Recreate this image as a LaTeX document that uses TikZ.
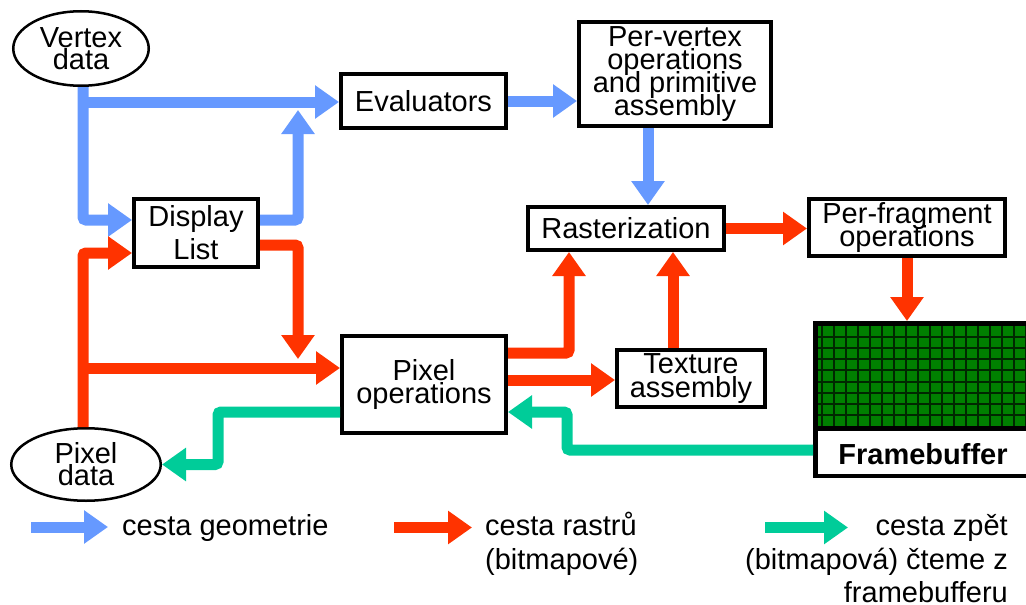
\documentclass[tikz,border=0pt]{standalone}
\usepackage{fontspec}
\setmainfont{Liberation Sans}
\usetikzlibrary{arrows.meta,shapes.geometric,calc}
\definecolor{geoblue}{RGB}{102,153,255}
\definecolor{rasred}{RGB}{255,51,0}
\definecolor{retgreen}{RGB}{0,204,153}
\definecolor{fbgreen}{RGB}{0,128,0}
\definecolor{fbline}{RGB}{0,40,0}
\newcommand{\tightlines}[1]{\fontsize{29}{#1}\selectfont\lineskiplimit=-100pt\lineskip=0pt}
\tikzset{
  flow/.style={line width=11pt, rounded corners=3pt, -{Triangle[length=24pt,width=32pt]}},
  geo/.style={flow, draw=geoblue},
  rast/.style={flow, draw=rasred},
  ret/.style={flow, draw=retgreen},
  box/.style={draw, line width=4pt, fill=white, inner sep=0pt, align=center, font=\tightlines{23.3}},
  blob/.style={ellipse, draw, line width=2.5pt, fill=white, inner sep=0pt, align=center, font=\tightlines{22}},
  legend/.style={inner sep=0pt, font=\fontsize{29}{34}\selectfont},
  gridline/.style={draw=fbline, line width=2pt},
}
\begin{document}
\begin{tikzpicture}[x=1pt,y=-1pt]
\useasboundingbox (0,0) rectangle (1026,605);
% nodes
\node[blob, minimum width=135.5pt, minimum height=74.5pt] (vd) at (81,48.5) {Vertex\\data};
\node[blob, minimum width=149.5pt, minimum height=72.5pt] (pd) at (86,464.5) {Pixel\\data};
\node[box, minimum width=165pt, minimum height=54pt] (ev) at (423.5,101) {Evaluators};
\node[box, minimum width=124pt, minimum height=68pt, font=\tightlines{33}] (dl) at (196,233) {Display\\List};
\node[box, minimum width=192pt, minimum height=104pt] (pv) at (675,74) {Per-vertex\\operations\\and primitive\\assembly};
\node[box, minimum width=196pt, minimum height=43pt] (ras) at (626,228.5) {Rasterization};
\node[box, minimum width=196pt, minimum height=57pt] (pf) at (907,227.5) {Per-fragment\\operations};
\node[box, minimum width=164pt, minimum height=97pt] (po) at (424,384.5) {Pixel\\operations};
\node[box, minimum width=148pt, minimum height=57pt] (tx) at (691,378.5) {Texture\\assembly};
% framebuffer
\node[draw, line width=4.5pt, fill=white, inner sep=0pt, minimum width=224.75pt, minimum height=152.5pt] (fb) at (927.625,399.5) {};
\fill[fbgreen] (817.5,325.5) rectangle (1040,426);
\foreach \i in {0,...,17} \draw[gridline] ({822+12*\i},325.5) -- ({822+12*\i},426);
\foreach \j in {1,...,8} \draw[gridline] (817.5,{326+11.1*\j}) -- (1040,{326+11.1*\j});
\draw[line width=5pt] (815,428.5) -- (1040,428.5);
\node[inner sep=0pt, font=\bfseries\fontsize{29}{29}\selectfont] (fbl) at (923,454.5) {Framebuffer};
% helper coordinates
\coordinate (vbr) at (83,102);
\coordinate (dlup) at (298,110);
\coordinate (rbr) at (83,368);
\coordinate (dldown) at (298,359);
% geometry path (blue)
\draw[geo] ([xshift=2pt]vd.south) |- ([yshift=13pt]dl.west);
\draw[geo] (vbr) -- (vbr -| ev.west);
\draw[geo] ([yshift=13pt]dl.east) -| (dlup);
\draw[geo] (ev.east) -- (ev.east -| pv.west);
\draw[geo] ([xshift=-27pt]pv.south) -- ([xshift=-27pt]pv.south |- ras.north);
% raster path (red)
\draw[rast] ([xshift=-3pt]pd.north) |- ([yshift=-20pt]dl.west);
\draw[rast] (rbr) -- (rbr -| po.west);
\draw[rast] ([yshift=-12pt]dl.east) -| (dldown);
\draw[rast] ([yshift=31.5pt]po.east) -| ([xshift=-57pt]ras.south);
\draw[rast] ([yshift=4.5pt]po.east) -- ([yshift=4.5pt]po.east -| tx.west);
\draw[rast] ([xshift=-18pt]tx.north) -- ([xshift=-18pt]tx.north |- ras.south);
\draw[rast] (ras.east) -- (ras.east -| pf.west);
\draw[rast] (pf.south) -- (pf.south |- fb.north);
% return path (green)
\draw[ret] ([yshift=-27.5pt]po.west) -- ++(-122,0) |- (pd.east);
\draw[ret] ([yshift=-50.5pt]fb.west) -- ++(-246,0) |- ([yshift=-27.5pt]po.east);
% legend
\coordinate (k1a) at (31,527);
\coordinate (k1b) at (108,527);
\coordinate (k2a) at (394,527.5);
\coordinate (k2b) at (472,527.5);
\coordinate (k3a) at (765,527.5);
\coordinate (k3b) at (848,527.5);
\draw[geo] (k1a) -- (k1b);
\draw[rast] (k2a) -- (k2b);
\draw[ret] (k3a) -- (k3b);
\node[legend, anchor=base west] (l1) at (122,535) {cesta geometrie};
\node[legend, anchor=base west] (l2a) at (485,535) {cesta rastrů};
\node[legend, anchor=base west] (l2b) at (485,569) {(bitmapové)};
\node[legend, anchor=base east] (l3a) at (1008,535) {cesta zpět};
\node[legend, anchor=base east] (l3b) at (1008,569) {(bitmapová) čteme z};
\node[legend, anchor=base east] (l3c) at (1008,602) {framebufferu};
\end{tikzpicture}
\end{document}
